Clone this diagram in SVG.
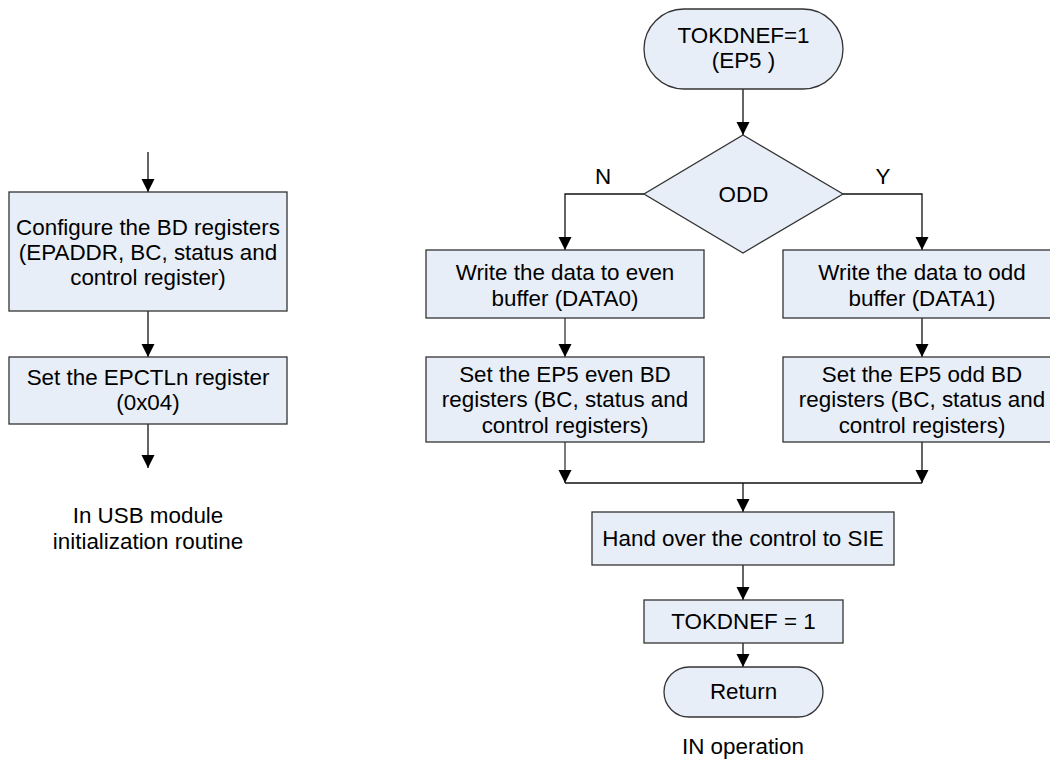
<svg xmlns="http://www.w3.org/2000/svg" width="1050" height="759" viewBox="0 0 1050 759">
  <defs>
    <marker id="arrow" markerUnits="userSpaceOnUse" markerWidth="14" markerHeight="14" refX="13" refY="6.5" orient="auto">
      <path d="M0,0 L13,6.5 L0,13 Z" fill="#000"/>
    </marker>
    <style>
      .box { fill: #E8EEF7; stroke: #333; stroke-width: 1.3; }
      .lbl { font-family: "Liberation Sans", Arial, sans-serif; font-size: 22.4px; fill: #000; text-anchor: middle; }
      .wire { fill: none; stroke: #111; stroke-width: 1.3; }
      .wire.grey { stroke: #5a5a5a; stroke-width: 1.6; }
    </style>
  </defs>
  <rect width="1050" height="759" fill="#fff"/>

  <!-- Connectors -->
  <g id="connectors">
    <!-- initialization routine column -->
    <path class="wire" d="M148,152 V192" marker-end="url(#arrow)"/>
    <path class="wire" d="M148,311 V357" marker-end="url(#arrow)"/>
    <path class="wire" d="M148,424 V468" marker-end="url(#arrow)"/>
    <!-- IN operation flow -->
    <path class="wire" d="M743,89 V135" marker-end="url(#arrow)"/>
    <path class="wire" d="M644,194 H565 V250" marker-end="url(#arrow)"/>
    <path class="wire" d="M843,194 H922 V250" marker-end="url(#arrow)"/>
    <path class="wire grey" d="M565,318 V357" marker-end="url(#arrow)"/>
    <path class="wire" d="M922,318 V357" marker-end="url(#arrow)"/>
    <path class="wire grey" d="M565,442 V483" marker-end="url(#arrow)"/>
    <path class="wire" d="M922,442 V483" marker-end="url(#arrow)"/>
    <path class="wire" d="M565,483 H922"/>
    <path class="wire" d="M743,483 V512" marker-end="url(#arrow)"/>
    <path class="wire" d="M743,565 V600" marker-end="url(#arrow)"/>
    <path class="wire" d="M743,643 V667" marker-end="url(#arrow)"/>
  </g>

  <!-- Initialization routine -->
  <g id="configure-bd">
    <rect class="box" x="9" y="192" width="278" height="119"/>
    <text class="lbl" x="148" y="234.5">Configure the BD registers</text>
    <text class="lbl" x="148" y="259.5">(EPADDR, BC, status and</text>
    <text class="lbl" x="148" y="284.5">control register)</text>
  </g>
  <g id="set-epctl">
    <rect class="box" x="9" y="357" width="278" height="67"/>
    <text class="lbl" x="148" y="385">Set the EPCTLn register</text>
    <text class="lbl" x="148" y="410">(0x04)</text>
  </g>
  <g id="caption-init">
    <text class="lbl" x="148" y="523">In USB module</text>
    <text class="lbl" x="148" y="549">initialization routine</text>
  </g>

  <!-- IN operation -->
  <g id="start">
    <rect class="box" x="644" y="9" width="199" height="80" rx="40" ry="40"/>
    <text class="lbl" x="743.5" y="42.5">TOKDNEF=1</text>
    <text class="lbl" x="743.5" y="68">(EP5 )</text>
  </g>
  <g id="odd-decision">
    <polygon class="box" points="743,135 843,194 743,253 644,194"/>
    <text class="lbl" x="743.5" y="202">ODD</text>
    <text class="lbl" x="603" y="184">N</text>
    <text class="lbl" x="883" y="184">Y</text>
  </g>
  <g id="write-even">
    <rect class="box" x="426" y="250" width="278" height="68"/>
    <text class="lbl" x="565" y="280">Write the data to even</text>
    <text class="lbl" x="565" y="305.5">buffer (DATA0)</text>
  </g>
  <g id="write-odd">
    <rect class="box" x="783" y="250" width="278" height="68"/>
    <text class="lbl" x="922" y="280">Write the data to odd</text>
    <text class="lbl" x="922" y="305.5">buffer (DATA1)</text>
  </g>
  <g id="set-even-bd">
    <rect class="box" x="426" y="357" width="278" height="85"/>
    <text class="lbl" x="565" y="382">Set the EP5 even BD</text>
    <text class="lbl" x="565" y="407">registers (BC, status and</text>
    <text class="lbl" x="565" y="432.5">control registers)</text>
  </g>
  <g id="set-odd-bd">
    <rect class="box" x="783" y="357" width="278" height="85"/>
    <text class="lbl" x="922" y="382">Set the EP5 odd BD</text>
    <text class="lbl" x="922" y="407">registers (BC, status and</text>
    <text class="lbl" x="922" y="432.5">control registers)</text>
  </g>
  <g id="hand-over">
    <rect class="box" x="592" y="512" width="302" height="53"/>
    <text class="lbl" x="743" y="546">Hand over the control to SIE</text>
  </g>
  <g id="tokdnef-set">
    <rect class="box" x="644" y="600" width="199" height="43"/>
    <text class="lbl" x="743.5" y="629">TOKDNEF = 1</text>
  </g>
  <g id="return">
    <rect class="box" x="664" y="667" width="159" height="50" rx="25" ry="25"/>
    <text class="lbl" x="743.5" y="699">Return</text>
  </g>
  <g id="caption-in">
    <text class="lbl" x="743" y="754">IN operation</text>
  </g>
</svg>
